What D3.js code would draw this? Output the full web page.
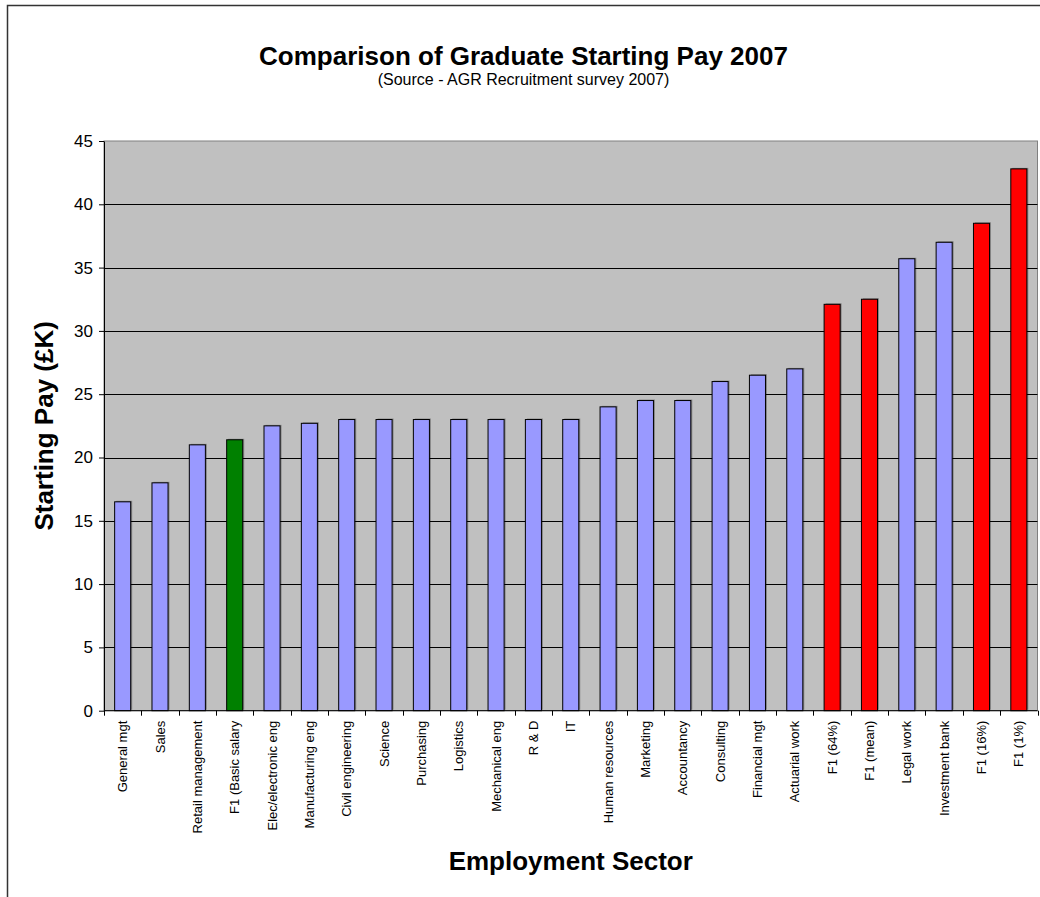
<!DOCTYPE html>
<html>
<head>
<meta charset="utf-8">
<script src="https://cdn.jsdelivr.net/npm/d3@7"></script>
<style>
  html, body { margin: 0; padding: 0; background: #fff; }
  svg { display: block; font-family: "Liberation Sans", Arial, sans-serif; }
</style>
</head>
<body>
<svg id="chart" width="1040" height="897"></svg>
<script>
// Graduate starting pay by employment sector, £K
const sectors = [
  "General mgt", "Sales", "Retail management", "F1 (Basic salary",
  "Elec/electronic eng", "Manufacturing eng", "Civil engineering", "Science",
  "Purchasing", "Logistics", "Mechanical eng", "R & D", "IT",
  "Human resources", "Marketing", "Accountancy", "Consulting",
  "Financial mgt", "Actuarial work", "F1 (64%)", "F1 (mean)",
  "Legal work", "Investment bank", "F1 (16%)", "F1 (1%)"
];
const pay = [
  16.5, 18, 21, 21.4,
  22.5, 22.7, 23, 23,
  23, 23, 23, 23, 23,
  24, 24.5, 24.5, 26,
  26.5, 27, 32.1, 32.5,
  35.7, 37, 38.5, 42.8
];
// bar group: "sector" = ordinary sector, "basic" = F1 basic salary, "f1" = F1 percentiles/mean
const group = [
  "sector", "sector", "sector", "basic",
  "sector", "sector", "sector", "sector",
  "sector", "sector", "sector", "sector", "sector",
  "sector", "sector", "sector", "sector",
  "sector", "sector", "f1", "f1",
  "sector", "sector", "f1", "f1"
];
const yTicks = [0, 5, 10, 15, 20, 25, 30, 35, 40, 45];

const title = "Comparison of Graduate Starting Pay 2007";
const subtitle = "(Source - AGR Recruitment survey 2007)";
const xTitle = "Employment Sector";
const yTitle = "Starting Pay (£K)";

const fills = { sector: "#9999FF", basic: "#008000", f1: "#FF0000" };

const svg = d3.select("#chart");
const plot = { left: 104, right: 1037.5, top: 141, bottom: 710.7 };

const x = d3.scaleBand()
  .domain(sectors)
  .range([plot.left, plot.right])
  .paddingInner(0.57)
  .paddingOuter(0.285);

const y = d3.scaleLinear()
  .domain([0, 45])
  .range([plot.bottom, plot.top]);

// outer chart frame (top and left edges)
svg.append("path")
  .attr("d", `M7.5,897 V5.5 H1040`)
  .attr("fill", "none")
  .attr("stroke", "#333")
  .attr("stroke-width", 1.5);

// plot area
svg.append("rect")
  .attr("x", plot.left).attr("y", plot.top)
  .attr("width", plot.right - plot.left)
  .attr("height", plot.bottom - plot.top)
  .attr("fill", "#C0C0C0")
  .attr("stroke", "#808080")
  .attr("stroke-width", 1);

// horizontal gridlines
svg.append("g")
  .selectAll("line")
  .data(yTicks.filter(t => t > 0 && t < 45))
  .join("line")
  .attr("x1", plot.left).attr("x2", plot.right)
  .attr("y1", d => Math.round(y(d)) + 0.5)
  .attr("y2", d => Math.round(y(d)) + 0.5)
  .attr("stroke", "#000")
  .attr("stroke-width", 1);

const data = sectors.map((s, i) => ({ sector: s, value: pay[i], group: group[i] }));

// bar shadows
svg.append("g")
  .selectAll("rect")
  .data(data)
  .join("rect")
  .attr("x", d => x(d.sector) + 1.5)
  .attr("y", d => y(d.value) - 1)
  .attr("width", x.bandwidth())
  .attr("height", d => y(0) - y(d.value))
  .attr("fill", "rgba(0,0,0,0.3)");

// bars
svg.append("g")
  .selectAll("rect")
  .data(data)
  .join("rect")
  .attr("x", d => x(d.sector))
  .attr("y", d => y(d.value))
  .attr("width", x.bandwidth())
  .attr("height", d => y(0) - y(d.value))
  .attr("fill", d => fills[d.group])
  .attr("stroke", "#000")
  .attr("stroke-width", 1);

// y axis
const yAxis = svg.append("g")
  .attr("transform", `translate(${plot.left},0)`)
  .call(d3.axisLeft(y).tickValues(yTicks).tickSize(5).tickPadding(6).tickSizeOuter(0));
yAxis.select(".domain").attr("stroke", "#000");
yAxis.selectAll(".tick line").attr("stroke", "#000");
yAxis.selectAll(".tick text")
  .attr("font-size", 17)
  .attr("font-family", "Liberation Sans, Arial, sans-serif")
  .attr("fill", "#000");

// x axis baseline
svg.append("line")
  .attr("x1", plot.left).attr("x2", plot.right)
  .attr("y1", plot.bottom).attr("y2", plot.bottom)
  .attr("stroke", "#000").attr("stroke-width", 1);

// category boundary ticks
const step = x.step();
const boundaries = sectors.map(s => x(s) - step * x.paddingInner() / 2).concat([plot.right]);
svg.append("g")
  .selectAll("line")
  .data(boundaries)
  .join("line")
  .attr("x1", d => Math.round(d) + 0.5).attr("x2", d => Math.round(d) + 0.5)
  .attr("y1", plot.bottom).attr("y2", plot.bottom + 5)
  .attr("stroke", "#000");

// category labels
svg.append("g")
  .selectAll("text")
  .data(sectors)
  .join("text")
  .attr("transform", d => `translate(${x(d) + x.bandwidth() / 2},${plot.bottom + 10}) rotate(-90)`)
  .attr("text-anchor", "end")
  .attr("dy", "0.35em")
  .attr("font-size", 13)
  .attr("fill", "#000")
  .text(d => d);

// titles
svg.append("text")
  .attr("x", 523.5).attr("y", 65)
  .attr("text-anchor", "middle")
  .attr("font-size", 26).attr("font-weight", "bold")
  .text(title);

svg.append("text")
  .attr("x", 523.5).attr("y", 85)
  .attr("text-anchor", "middle")
  .attr("font-size", 16)
  .text(subtitle);

svg.append("text")
  .attr("x", (plot.left + plot.right) / 2).attr("y", 870)
  .attr("text-anchor", "middle")
  .attr("font-size", 26).attr("font-weight", "bold")
  .text(xTitle);

svg.append("text")
  .attr("transform", `translate(53,${(plot.top + plot.bottom) / 2}) rotate(-90)`)
  .attr("text-anchor", "middle")
  .attr("font-size", 26).attr("font-weight", "bold")
  .text(yTitle);
</script>
</body>
</html>
